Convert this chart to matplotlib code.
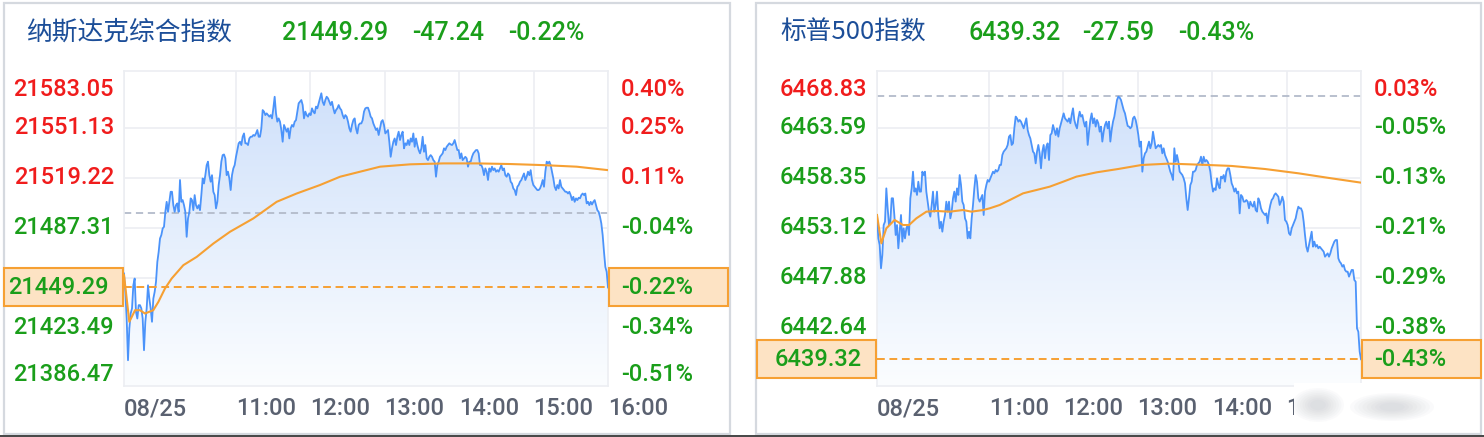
import numpy as np
import matplotlib
matplotlib.use("Agg")
import matplotlib.pyplot as plt
import matplotlib.transforms as mtransforms
from matplotlib.colors import LinearSegmentedColormap
from matplotlib.patches import Rectangle, Ellipse

# ---------------- data ----------------
session_date = "08/25"
hour_ticks = [0, 90, 150, 210, 270, 330, 390]          # minutes after 09:30
hour_labels = [session_date, "11:00", "12:00", "13:00", "14:00", "15:00", "16:00"]

nasdaq_name = "纳斯达克综合指数"
nasdaq_last = 21449.29
nasdaq_change = -47.24
nasdaq_price = [
    21458.2, 21446.5, 21429.5, 21402.9, 21423.1, 21432.7, 21435.9, 21450.7, 21455.0, 21433.7,
    21429.5, 21438.0, 21438.0, 21435.9, 21429.5, 21409.3, 21427.4, 21435.9, 21450.7, 21442.2,
    21435.9, 21427.4, 21442.2, 21446.5, 21452.9, 21465.6, 21472.0, 21480.5, 21482.7, 21486.9,
    21488.0, 21497.5, 21503.9, 21497.5, 21503.9, 21510.3, 21510.3, 21501.8, 21497.5, 21501.8,
    21502.9, 21497.5, 21517.8, 21503.9, 21505.0, 21501.8, 21497.5, 21481.6, 21493.3, 21497.5,
    21506.1, 21505.0, 21498.6, 21508.2, 21501.8, 21499.7, 21501.8, 21498.6, 21508.2, 21518.8,
    21515.6, 21520.9, 21527.3, 21529.5, 21520.9, 21516.7, 21520.9, 21510.3, 21508.2, 21499.7,
    21503.9, 21514.6, 21520.9, 21529.5, 21533.7, 21534.1, 21531.6, 21520.9, 21523.1, 21518.8,
    21511.4, 21520.9, 21525.2, 21527.3, 21532.6, 21536.9, 21541.2, 21542.2, 21540.1, 21545.4,
    21547.5, 21541.2, 21541.2, 21540.1, 21544.3, 21545.4, 21545.4, 21546.5, 21546.0, 21547.5,
    21549.7, 21545.4, 21545.4, 21550.7, 21562.4, 21561.4, 21559.2, 21560.3, 21559.2, 21558.2,
    21559.2, 21557.1, 21563.5, 21570.9, 21560.3, 21555.0, 21557.1, 21555.0, 21549.7, 21542.2,
    21552.9, 21550.7, 21548.6, 21550.7, 21544.3, 21550.7, 21552.9, 21551.8, 21555.0, 21556.0,
    21561.4, 21566.7, 21567.7, 21568.8, 21565.6, 21557.1, 21561.4, 21559.2, 21558.2, 21560.3,
    21559.2, 21563.5, 21561.4, 21560.3, 21564.6, 21563.5, 21566.7, 21569.9, 21573.1, 21567.7,
    21565.6, 21568.8, 21570.9, 21569.9, 21567.7, 21565.6, 21567.7, 21563.5, 21560.3, 21562.4,
    21563.5, 21565.6, 21563.5, 21562.4, 21559.2, 21557.1, 21559.2, 21558.2, 21555.0, 21550.7,
    21548.6, 21552.9, 21556.0, 21557.1, 21550.7, 21547.5, 21552.9, 21553.9, 21553.9, 21556.0,
    21561.4, 21563.5, 21563.9, 21563.9, 21561.4,
    21558.2, 21557.1, 21553.9, 21551.8, 21549.7, 21550.7, 21546.5, 21550.7, 21555.0, 21556.0,
    21552.9, 21547.5, 21548.6, 21549.7, 21542.2, 21532.6, 21538.0, 21542.2, 21544.3, 21540.1,
    21545.4, 21548.6, 21543.3, 21546.5, 21548.6, 21538.0, 21541.2, 21540.1, 21543.3, 21540.1,
    21544.3, 21542.2, 21547.5, 21539.0, 21544.3, 21540.1, 21536.9, 21534.8, 21538.0, 21545.4,
    21535.8, 21540.1, 21531.6, 21530.5, 21532.6, 21533.7, 21532.6, 21530.5, 21529.5, 21519.9,
    21527.3, 21529.5, 21532.6, 21533.7, 21534.8, 21538.0, 21536.9, 21539.0, 21540.1, 21541.2,
    21540.5, 21540.1, 21541.2, 21543.3, 21540.1, 21536.9, 21536.9, 21531.6, 21534.8, 21530.5,
    21531.6, 21532.6, 21531.6, 21526.3, 21529.5, 21529.5, 21532.6, 21534.8, 21535.8, 21536.9,
    21536.9, 21534.8, 21527.3, 21527.3, 21525.2, 21520.9, 21525.2, 21523.1, 21517.8, 21525.2,
    21523.1, 21526.3, 21524.1, 21525.2, 21523.1, 21524.1, 21523.1, 21525.2, 21527.3, 21524.1,
    21525.2, 21520.9, 21519.9, 21522.0, 21520.9, 21516.7, 21515.6, 21512.4, 21511.4, 21508.2,
    21513.5, 21514.6, 21516.7, 21517.8, 21519.9, 21522.0, 21517.8, 21519.9, 21523.1, 21520.9,
    21524.1, 21517.8, 21514.6, 21513.5, 21512.4, 21511.4, 21511.4, 21512.4, 21514.6, 21517.8,
    21513.5, 21523.1, 21529.5, 21528.4, 21529.5, 21527.3, 21523.1, 21518.8, 21513.5, 21511.4,
    21514.6, 21512.4, 21517.8, 21513.5, 21512.4, 21511.4, 21510.3, 21510.3, 21509.2, 21510.3,
    21508.2, 21505.0, 21507.1, 21503.9, 21506.1, 21505.0, 21506.5, 21506.1, 21508.2, 21509.2,
    21508.2, 21509.2, 21502.9, 21503.9, 21501.8, 21503.9, 21502.2, 21503.9, 21505.0, 21501.8,
    21498.6, 21497.5, 21494.4, 21490.1, 21482.7, 21472.0, 21462.4, 21459.3, 21449.29,
]
nasdaq_avg_t = [0, 4.3, 8.9, 12.9, 16.9, 23.6, 27.7, 33.0, 38.4, 47.8, 58.6, 72.0, 85.4, 104.2,
                123.0, 139.1, 157.9, 174.1, 190.2, 206.3, 230.5, 257.3, 284.2, 311.0, 337.9, 364.8, 390]
nasdaq_avg = [21457.1, 21427.4, 21434.8, 21434.8, 21432.7, 21434.8, 21440.1, 21448.6, 21455.0,
              21463.5, 21468.8, 21477.3, 21484.8, 21493.3, 21503.9, 21509.2, 21514.6, 21519.9,
              21523.1, 21526.3, 21527.8, 21528.4, 21528.4, 21528.0, 21527.3, 21526.3, 21524.1]
nasdaq_ticks = [21583.05, 21551.13, 21519.22, 21487.31, 21423.49, 21386.47]
nasdaq_grid = [21551.13, 21519.22, 21487.31, 21455.40, 21423.49, 21391.58]
nasdaq_ylim = (21386.47, 21587.31)

spx_name = "标普500指数"
spx_last = 6439.32
spx_change = -27.59
spx_price = [
    6454.44, 6451.99, 6451.30, 6448.85, 6450.25, 6453.39, 6453.74, 6457.23, 6455.14, 6453.39,
    6453.74, 6456.19, 6456.19, 6454.44, 6452.34, 6453.39, 6450.95, 6452.69, 6454.44, 6451.65,
    6453.04, 6451.99, 6453.04, 6453.39, 6452.34, 6456.19, 6457.23, 6458.98, 6456.89, 6457.23,
    6456.54, 6457.93, 6456.89, 6456.89, 6458.98, 6458.63, 6458.98, 6456.89, 6455.84, 6454.79,
    6454.27, 6455.49, 6456.89, 6454.79, 6455.49, 6456.89, 6454.44, 6453.04, 6453.74, 6452.69,
    6453.74, 6454.44, 6455.84, 6454.79, 6455.84, 6454.09, 6454.79, 6456.19, 6456.89, 6455.84,
    6457.23, 6456.54, 6458.63, 6457.58, 6455.84, 6455.49, 6454.09, 6453.74, 6451.99, 6452.69,
    6451.99, 6454.09, 6455.49, 6457.23, 6458.63, 6457.93, 6456.19, 6455.84, 6456.19, 6456.54,
    6454.44, 6456.89, 6457.58, 6458.11, 6457.93, 6458.28, 6458.63, 6458.98, 6458.81, 6459.16,
    6458.98, 6459.16, 6459.68, 6459.68, 6460.73, 6461.08, 6461.25, 6461.43, 6461.78, 6462.65,
    6462.82, 6461.78, 6461.95, 6463.52, 6464.75, 6464.57, 6464.22, 6464.40, 6464.22, 6463.87,
    6463.52, 6464.05, 6464.57, 6463.35, 6462.82, 6462.47, 6461.78, 6461.08, 6460.90, 6459.85,
    6461.08, 6461.78, 6460.90, 6459.33, 6461.08, 6461.78, 6460.38, 6461.60, 6461.95, 6460.20,
    6462.82, 6463.00, 6463.87, 6463.35, 6462.82, 6463.52, 6462.65, 6463.52, 6464.05, 6464.57,
    6465.09, 6464.57, 6464.40, 6464.22, 6464.57, 6464.05, 6464.92, 6465.62, 6464.40, 6463.87,
    6463.52, 6464.57, 6465.27, 6464.75, 6464.92, 6464.22, 6463.70, 6464.22, 6461.78, 6463.17,
    6464.40, 6465.09, 6464.05, 6464.57, 6463.70, 6464.40, 6464.05, 6463.17, 6463.70, 6462.13,
    6463.17, 6463.87, 6464.22, 6463.52, 6464.22, 6462.13, 6463.35, 6464.22, 6464.75,
    6465.62, 6466.49, 6466.84, 6466.74, 6466.49, 6465.97, 6465.44, 6465.09, 6464.40, 6463.77,
    6463.70, 6463.52, 6463.70, 6464.57, 6464.75, 6464.40, 6463.70, 6462.82, 6461.60, 6462.13,
    6458.98, 6460.38, 6460.90, 6461.08, 6461.60, 6462.13, 6461.43, 6461.95, 6463.17, 6462.30,
    6461.43, 6461.60, 6461.78, 6461.60, 6461.78, 6460.90, 6461.43, 6460.73, 6460.38, 6460.03,
    6459.51, 6458.98, 6458.63, 6458.11, 6461.43, 6460.03, 6460.73, 6460.03, 6458.98, 6458.81,
    6458.63, 6458.28, 6457.76, 6456.19, 6454.96, 6456.19, 6457.58, 6457.93, 6458.98, 6458.98,
    6459.16, 6459.68, 6459.85, 6460.03, 6460.55, 6459.68, 6460.55, 6460.03, 6460.20, 6460.03,
    6459.68, 6458.98, 6457.76, 6456.89, 6457.23, 6457.06, 6458.28, 6457.58, 6457.23, 6458.46,
    6458.28, 6458.63, 6457.93, 6458.98, 6459.33, 6459.33, 6458.63, 6457.76, 6457.41, 6456.89,
    6457.23, 6456.71, 6456.89, 6454.61, 6456.54, 6456.36, 6455.84, 6455.84, 6456.01, 6455.84,
    6455.14, 6455.84, 6455.49, 6455.31, 6455.84, 6454.96, 6454.79, 6456.19, 6455.84, 6455.14,
    6454.79, 6454.61, 6454.44, 6454.61, 6453.57, 6454.79, 6455.49, 6456.01, 6456.19, 6456.54,
    6456.71, 6456.54, 6456.36, 6455.49, 6455.84, 6456.36, 6455.84, 6453.92, 6453.74, 6453.39,
    6452.52, 6452.34, 6453.04, 6453.39, 6453.74, 6454.09, 6454.79, 6455.31, 6455.14, 6455.14,
    6454.79, 6453.74, 6452.34, 6451.12, 6450.60, 6451.30, 6451.99, 6452.69, 6451.12, 6451.65,
    6451.12, 6451.30, 6450.95, 6451.12, 6450.95, 6450.77, 6450.60, 6450.07, 6450.25, 6450.42,
    6450.07, 6450.42, 6450.95, 6451.30, 6451.65, 6451.82, 6451.82, 6449.90, 6449.55, 6449.37,
    6449.03, 6449.20, 6448.68, 6448.50, 6448.50, 6447.98, 6448.33, 6448.68, 6448.68, 6447.63,
    6447.45, 6442.56, 6442.21, 6440.12, 6439.32,
]
spx_avg_t = [0, 3.5, 7.5, 14.2, 21.0, 25.8, 31.7, 39.8, 47.8, 58.6, 69.3, 76.1, 85.5, 90.8, 98.9,
             107.0, 117.7, 128.5, 139.2, 150.0, 160.7, 176.9, 194.3, 213.1, 234.6, 245.4, 266.9,
             285.7, 312.6, 339.5, 366.3, 390]
spx_avg = [6454.44, 6451.47, 6453.04, 6453.92, 6453.39, 6453.39, 6454.09, 6454.79, 6454.86,
           6454.79, 6454.96, 6454.79, 6454.96, 6455.14, 6455.49, 6456.01, 6456.71, 6457.06,
           6457.41, 6457.93, 6458.46, 6458.91, 6459.26, 6459.68, 6459.82, 6459.78, 6459.68,
           6459.58, 6459.26, 6458.81, 6458.28, 6457.83]
spx_ticks = [6468.83, 6463.59, 6458.35, 6453.12, 6447.88, 6442.64]
spx_grid = [6463.59, 6458.35, 6453.12, 6447.88, 6442.64, 6437.40]
spx_ylim = (6436.52, 6469.53)

# ---------------- style ----------------
W, H = 1484, 437
RED = "#f01c1c"
GREEN = "#1a9e1a"
TITLE_BLUE = "#1c4e98"
LINE_BLUE = "#4b93fa"
ORANGE = "#f6a033"
BOX_FACE = "#fde3c4"
GRID = "#eceef2"
PRE_GRAY = "#b3bbca"
AXIS_GRAY = "#5a6170"
BORDER = "#d5d9df"
NUM_FONT = ["Roboto", "Liberation Sans", "DejaVu Sans"]

plt.rcParams["font.family"] = NUM_FONT
plt.rcParams["font.weight"] = "medium"

fig = plt.figure(figsize=(W / 100, H / 100), dpi=100)
fig.patch.set_facecolor("white")


def fx(x):
    return x / W


def fy(y):
    return 1 - y / H


def draw_index(ax, name, last, change, price, avg_t, avg, ticks, grid, ylim, title_xs):
    pre_close = last - change
    t = np.linspace(0, 390, len(price))
    ax.set_xlim(0, 390)
    ax.set_ylim(*ylim)

    # gradient area under the price line
    area = ax.fill_between(t, price, ylim[0], facecolor="none", edgecolor="none")
    cmap = LinearSegmentedColormap.from_list("area", ["#fbfdff", "#cddffa"])
    im = ax.imshow(np.linspace(1, 0, 256).reshape(-1, 1), extent=[0, 390, ylim[0], ylim[1]],
                   aspect="auto", cmap=cmap, vmin=0, vmax=1, origin="upper", zorder=1)
    im.set_clip_path(area.get_paths()[0], transform=ax.transData)
    ax.set_xlim(0, 390)
    ax.set_ylim(*ylim)

    # grid
    ax.hlines(grid, 0, 390, color=GRID, lw=1.2, zorder=0.5)
    ax.vlines(hour_ticks, ylim[0], ylim[1], color=GRID, lw=1.2, zorder=0.5)
    for s in ax.spines.values():
        s.set_color(GRID)
        s.set_linewidth(1.2)

    ax.axhline(pre_close, color=PRE_GRAY, lw=1.3, ls=(0, (4, 2.6)), zorder=2)
    ax.plot(t, price, color=LINE_BLUE, lw=1.3, zorder=3)
    ax.plot(avg_t, avg, color=ORANGE, lw=1.5, zorder=4)
    ax.axhline(last, color=ORANGE, lw=1.4, ls=(0, (4, 2.4)), zorder=5)

    # x axis
    ax.set_yticks([])
    ax.set_xticks(hour_ticks)
    ax.set_xticklabels(hour_labels, ha="left", fontsize=17, color=AXIS_GRAY)
    ax.tick_params(axis="x", length=0, pad=8)

    # y labels (price on the left, percent on the right)
    left_tr = mtransforms.offset_copy(ax.get_yaxis_transform(), fig=fig, x=-10, y=0, units="dots")
    right_tr = mtransforms.offset_copy(ax.get_yaxis_transform(), fig=fig, x=13, y=0, units="dots")
    for i, v in enumerate(ticks):
        col = RED if v > pre_close else GREEN
        if i == 0:
            va = "top"
        elif abs(v - ylim[0]) < 1e-6:
            va = "bottom"
        else:
            va = "center"
        pct = (v / pre_close - 1) * 100
        ax.text(0, v, f"{v:.2f}", transform=left_tr, ha="right", va=va, fontsize=17, color=col)
        ax.text(1, v, f"{pct:.2f}%", transform=right_tr, ha="left", va=va, fontsize=17, color=col)

    # boxes with the latest value
    fig.canvas.draw()
    bb = ax.get_window_extent()
    y_disp = ax.transData.transform((0, last))[1]
    box_h = 38
    ax.add_patch(Rectangle((bb.x0 - 120, y_disp - box_h / 2), 119, box_h,
                           transform=mtransforms.IdentityTransform(), facecolor=BOX_FACE,
                           edgecolor=ORANGE, lw=1.5, clip_on=False, zorder=6))
    ax.add_patch(Rectangle((bb.x1 + 1, y_disp - box_h / 2), 119, box_h,
                           transform=mtransforms.IdentityTransform(), facecolor=BOX_FACE,
                           edgecolor=ORANGE, lw=1.5, clip_on=False, zorder=6))
    last_col = RED if last > pre_close else GREEN
    last_pct = (last / pre_close - 1) * 100
    box_left = mtransforms.offset_copy(ax.get_yaxis_transform(), fig=fig, x=-15, y=0, units="dots")
    ax.text(0, last, f"{last:.2f}", transform=box_left, ha="right", va="center",
            fontsize=17, color=last_col, zorder=7)
    ax.text(1, last, f"{last_pct:.2f}%", transform=right_tr, ha="left", va="center",
            fontsize=17, color=last_col, zorder=7)

    # header
    fig.text(fx(title_xs[0]), fy(33), name, ha="left", va="center", fontsize=18.5,
             color=TITLE_BLUE, family=["Noto Sans CJK SC", "Roboto"], weight="medium")
    head = [f"{last:.2f}", f"{change:.2f}", f"{last_pct:.2f}%"]
    for x, s in zip(title_xs[1:], head):
        fig.text(fx(x), fy(33), s, ha="left", va="center", fontsize=18, color=last_col)


# panel frames
for x0, x1 in [(4, 730), (756, 1481)]:
    fig.add_artist(Rectangle((fx(x0), fy(434)), (x1 - x0) / W, 431 / H, transform=fig.transFigure,
                             fill=False, edgecolor=BORDER, lw=1.6, zorder=-1))

ax1 = fig.add_axes([fx(124), fy(386), 484 / W, 315 / H])
draw_index(ax1, nasdaq_name, nasdaq_last, nasdaq_change, nasdaq_price, nasdaq_avg_t, nasdaq_avg,
           nasdaq_ticks, nasdaq_grid, nasdaq_ylim, [26, 282, 412, 508])

ax2 = fig.add_axes([fx(877), fy(386), 484 / W, 315 / H])
draw_index(ax2, spx_name, spx_last, spx_change, spx_price, spx_avg_t, spx_avg,
           spx_ticks, spx_grid, spx_ylim, [780, 968, 1082, 1178])

# blurred watermark in the lower right corner
fig.add_artist(Rectangle((fx(1294), fy(429)), 165 / W, 46 / H, transform=fig.transFigure,
                         facecolor="white", edgecolor="none", zorder=10))
for cx, cy, w, h in [(1318, 405, 52, 34), (1392, 407, 84, 28)]:
    for k in range(8):
        sc = 1 - k * 0.1
        fig.add_artist(Ellipse((fx(cx), fy(cy)), w * sc / W, h * sc / H, transform=fig.transFigure,
                               facecolor="#9aa0a8", edgecolor="none", alpha=0.045, zorder=11))

# dark strip along the bottom edge
fig.add_artist(Rectangle((0, 0), 1, 2 / H, transform=fig.transFigure, facecolor="#4a4a4a",
                         edgecolor="none", zorder=12))

fig.savefig("out.png", dpi=100)
